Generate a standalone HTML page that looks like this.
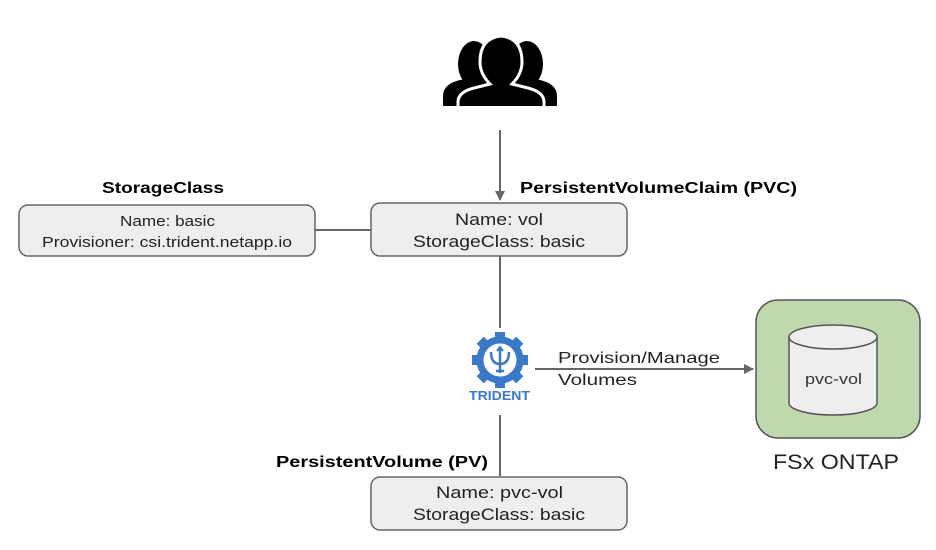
<!DOCTYPE html>
<html><head><meta charset="utf-8"><style>
html,body{margin:0;padding:0;background:#fff;}
svg{display:block;font-family:"Liberation Sans",sans-serif;}
</style></head><body>
<svg width="936" height="550" viewBox="0 0 936 550" xmlns="http://www.w3.org/2000/svg">
<defs>
<marker id="ar" markerWidth="10" markerHeight="10" refX="9" refY="5" orient="auto" markerUnits="userSpaceOnUse"><path d="M0,0 L10,5 L0,10 z" fill="#666"/></marker>
</defs>
<!-- people icon -->
<g fill="#000">
<ellipse cx="474" cy="64" rx="16" ry="23"/>
<path d="M443,106 L443,96 Q443,84 460,80 L474,78 L490,82 L490,106 Z"/>
<ellipse cx="527" cy="64" rx="16" ry="23"/>
<path d="M557,106 L557,96 Q557,84 540,80 L527,78 L511,82 L511,106 Z"/>
</g>
<g fill="#000" stroke="#fff" stroke-width="3">
<path d="M458,108 L458,102 Q458,92 474,88 L490,84 Q480,74 480,62 Q480,38 501,36 Q522,38 522,62 Q522,74 512,84 L528,88 Q544,92 544,102 L544,108 Z"/>
</g>
<rect x="440" y="106" width="120" height="12" fill="#fff"/>
<!-- connectors -->
<line x1="500" y1="130" x2="500" y2="200" stroke="#666" stroke-width="2" marker-end="url(#ar)"/>
<line x1="315" y1="230" x2="371" y2="230" stroke="#666" stroke-width="2"/>
<line x1="500" y1="256" x2="500" y2="328" stroke="#666" stroke-width="2"/>
<line x1="500" y1="415" x2="500" y2="476" stroke="#666" stroke-width="2"/>
<line x1="535" y1="369" x2="753" y2="369" stroke="#666" stroke-width="2" marker-end="url(#ar)"/>
<!-- boxes -->
<rect x="19" y="205" width="296" height="51" rx="9" fill="#eee" stroke="#666" stroke-width="1.5"/>
<text x="120" y="226" font-size="15" textLength="95" lengthAdjust="spacingAndGlyphs" fill="#222">Name: basic</text>
<text x="42" y="247" font-size="15" textLength="250" lengthAdjust="spacingAndGlyphs" fill="#222">Provisioner: csi.trident.netapp.io</text>
<text x="102" y="193" font-size="16" font-weight="bold" textLength="122" lengthAdjust="spacingAndGlyphs">StorageClass</text>

<rect x="371" y="203" width="256" height="53" rx="9" fill="#eee" stroke="#666" stroke-width="1.5"/>
<text x="455" y="225" font-size="17" textLength="88" lengthAdjust="spacingAndGlyphs" fill="#222">Name: vol</text>
<text x="413" y="247" font-size="17" textLength="172" lengthAdjust="spacingAndGlyphs" fill="#222">StorageClass: basic</text>
<text x="520" y="193" font-size="16" font-weight="bold" textLength="277" lengthAdjust="spacingAndGlyphs">PersistentVolumeClaim (PVC)</text>

<rect x="371" y="477" width="256" height="53" rx="9" fill="#eee" stroke="#666" stroke-width="1.5"/>
<text x="436" y="498" font-size="17" textLength="127" lengthAdjust="spacingAndGlyphs" fill="#222">Name: pvc-vol</text>
<text x="413" y="520" font-size="17" textLength="172" lengthAdjust="spacingAndGlyphs" fill="#222">StorageClass: basic</text>
<text x="276" y="467" font-size="16" font-weight="bold" textLength="212" lengthAdjust="spacingAndGlyphs">PersistentVolume (PV)</text>

<text x="558" y="363" font-size="16" textLength="162" lengthAdjust="spacingAndGlyphs" fill="#222">Provision/Manage</text>
<text x="558" y="385" font-size="16" textLength="79" lengthAdjust="spacingAndGlyphs" fill="#222">Volumes</text>

<!-- trident -->
<g transform="translate(500,360)">
<circle r="20" fill="none" stroke="#3a78c9" stroke-width="7"/>
<g fill="#3a78c9">
<rect x="-5" y="-28" width="10" height="8"/><rect x="-5" y="20" width="10" height="8"/>
<rect x="-28" y="-5" width="8" height="10"/><rect x="20" y="-5" width="8" height="10"/>
<rect x="-5" y="-28" width="10" height="8" transform="rotate(45)"/><rect x="-5" y="-28" width="10" height="8" transform="rotate(-45)"/>
<rect x="-5" y="-28" width="10" height="8" transform="rotate(135)"/><rect x="-5" y="-28" width="10" height="8" transform="rotate(-135)"/>
</g>
<path d="M0,-12 L0,13 M-9,-8 Q-9,4 0,4 Q9,4 9,-8 M-4,11 L4,11" stroke="#3a78c9" stroke-width="2.5" fill="none"/>
<path d="M-3,-9 L0,-13 L3,-9" stroke="#3a78c9" stroke-width="2" fill="none"/>
</g>
<text x="469" y="400" font-size="13" font-weight="bold" fill="#3a78c9" textLength="61" lengthAdjust="spacingAndGlyphs">TRIDENT</text>

<!-- FSx -->
<rect x="756" y="300" width="164" height="138" rx="22" fill="#bfd8ad" stroke="#555" stroke-width="1.5"/>
<path d="M789,337 L789,403 A44,12 0 0 0 877,403 L877,337" fill="#eee" stroke="#555" stroke-width="1.5"/>
<ellipse cx="833" cy="337" rx="44" ry="12" fill="#eee" stroke="#555" stroke-width="1.5"/>
<text x="805" y="384" font-size="15" textLength="57" lengthAdjust="spacingAndGlyphs" fill="#333">pvc-vol</text>
<text x="773" y="469" font-size="21" textLength="126" lengthAdjust="spacingAndGlyphs" fill="#222">FSx ONTAP</text>
</svg>
</body></html>
